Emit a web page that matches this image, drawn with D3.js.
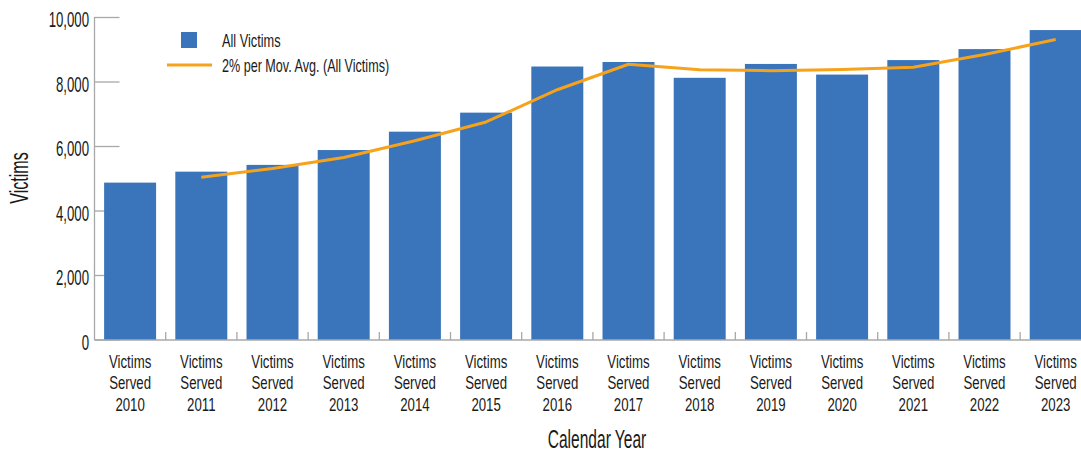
<!DOCTYPE html>
<html>
<head>
<meta charset="utf-8">
<script src="https://cdn.jsdelivr.net/npm/d3@7"></script>
<style>
  html, body { margin: 0; padding: 0; background: #fff; }
  svg { display: block; }
  text { font-family: "Liberation Sans", Arial, sans-serif; fill: #1a1a1a; }
</style>
</head>
<body>
<svg id="chart" width="1081" height="454"></svg>
<script>
// ---- data ----
const years = ["2010","2011","2012","2013","2014","2015","2016","2017","2018","2019","2020","2021","2022","2023"];
const categories = years.map(y => "Victims Served " + y);
const allVictims = [4880, 5220, 5430, 5890, 6460, 7050, 8480, 8620, 8130, 8560, 8230, 8680, 9020, 9610];
// 2-period moving average (starts at 2011)
const movAvgYears = ["2011","2012","2013","2014","2015","2016","2017","2018","2019","2020","2021","2022","2023"];
const movAvg = [5050, 5320, 5660, 6180, 6760, 7760, 8550, 8380, 8350, 8390, 8460, 8850, 9320];
const yTicks = [0, 2000, 4000, 6000, 8000, 10000];
const seriesNames = ["All Victims", "2% per Mov. Avg. (All Victims)"];
const axisTitles = { x: "Calendar Year", y: "Victims" };

// ---- layout ----
const BLUE = "#3a74ba", ORANGE = "#f7a21b", AXIS = "#a8a8a8";
const svg = d3.select("#chart");
const x0 = 94.5, bandW = 71.2;
const x = d3.scaleBand().domain(years).range([x0, x0 + bandW * years.length]).paddingInner(0.27).paddingOuter(0.135);
const y = d3.scaleLinear().domain([0, 10000]).range([340, 17.5]);
const fmt = d3.format(",");

function ctext(g, px, py, str, size, sx, anchor) {
  return g.append("text")
    .attr("transform", `translate(${px},${py}) scale(${sx},1)`)
    .attr("text-anchor", anchor || "start")
    .style("font-size", size + "px")
    .text(str);
}

// y-axis ticks (short inward lines)
svg.append("g").selectAll("line").data(yTicks).join("line")
  .attr("x1", x0).attr("x2", x0 + 25)
  .attr("y1", d => y(d)).attr("y2", d => y(d))
  .attr("stroke", AXIS).attr("stroke-width", 1.3);

// bars
svg.append("g").selectAll("rect").data(allVictims).join("rect")
  .attr("x", (d, i) => x(years[i]))
  .attr("width", x.bandwidth())
  .attr("y", d => y(d))
  .attr("height", d => y(0) - y(d))
  .attr("fill", BLUE);

// axes lines
svg.append("line").attr("x1", x0).attr("x2", x0).attr("y1", y(10000) - 0.5).attr("y2", y(0))
  .attr("stroke", AXIS).attr("stroke-width", 1.3);
svg.append("line").attr("x1", x0).attr("x2", 1081).attr("y1", y(0)).attr("y2", y(0))
  .attr("stroke", AXIS).attr("stroke-width", 1.3);
// category boundary ticks
svg.append("g").selectAll("line").data(years.slice(1)).join("line")
  .attr("x1", d => x(d) - x.step() * x.paddingInner() / 2)
  .attr("x2", d => x(d) - x.step() * x.paddingInner() / 2)
  .attr("y1", y(0)).attr("y2", y(0) - 8)
  .attr("stroke", AXIS).attr("stroke-width", 1.3);

// y tick labels
const yl = svg.append("g");
yTicks.forEach(t => ctext(yl, 89, y(t) + 9.5, fmt(t), 22, 0.6, "end"));

// x category labels (one text element per category, three lines)
const xl = svg.append("g");
categories.forEach((c, i) => {
  const cx = x(years[i]) + x.bandwidth() / 2;
  const t = xl.append("text")
    .attr("transform", `translate(${cx},368) scale(0.69,1)`)
    .attr("text-anchor", "middle")
    .style("font-size", "19.2px");
  ["Victims", "Served", years[i]].forEach((p, k) =>
    t.append("tspan").attr("x", 0).attr("y", k * 21.5).text(p));
});

// moving average line
const line = d3.line()
  .x((d, i) => x(movAvgYears[i]) + x.bandwidth() / 2)
  .y(d => y(d));
svg.append("path").datum(movAvg)
  .attr("d", line)
  .attr("fill", "none").attr("stroke", ORANGE).attr("stroke-width", 3)
  .attr("stroke-linejoin", "round");

// axis titles
ctext(svg, 597, 447.5, axisTitles.x, 25.5, 0.61, "middle");
svg.append("text")
  .attr("transform", "translate(28,178) rotate(-90) scale(0.62,1)")
  .attr("text-anchor", "middle").style("font-size", "26px").text(axisTitles.y);

// legend
const lg = svg.append("g");
lg.append("rect").attr("x", 181).attr("y", 32).attr("width", 16).attr("height", 16).attr("fill", BLUE);
ctext(lg, 222, 46.7, seriesNames[0], 18, 0.71);
lg.append("line").attr("x1", 167).attr("x2", 212).attr("y1", 65).attr("y2", 65)
  .attr("stroke", ORANGE).attr("stroke-width", 3);
ctext(lg, 222, 71.5, seriesNames[1], 18, 0.7);
</script>
</body>
</html>
